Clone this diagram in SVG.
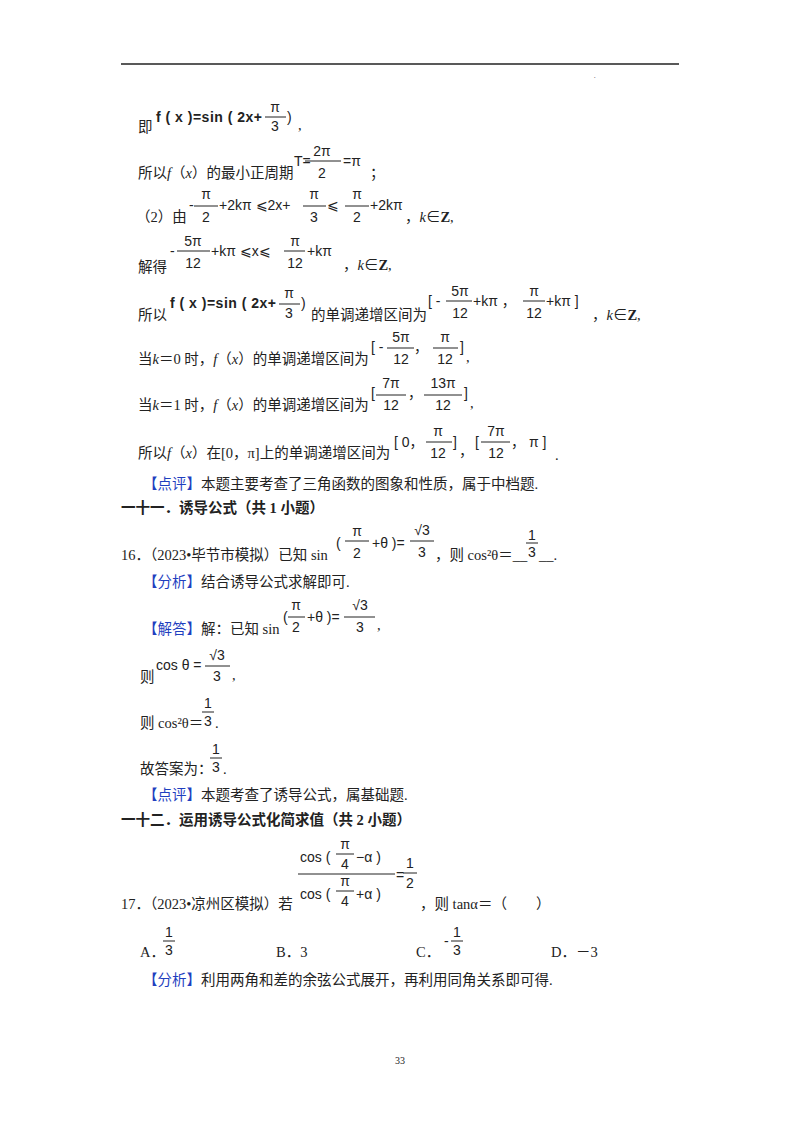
<svg xmlns="http://www.w3.org/2000/svg" width="800" height="1132" viewBox="0 0 800 1132">
<style>
text{font-family:"Liberation Serif","Noto Sans CJK SC",serif;font-size:14.5px;fill:#222}
.m{font-family:"Liberation Sans","Noto Sans CJK SC",sans-serif;font-size:14px}
.f{font-family:"Liberation Sans",sans-serif;font-size:14px;font-weight:bold;letter-spacing:0.5px}
.b{font-weight:bold}
.bl{fill:#1f3fbf}
.i{font-style:italic}
line{stroke:#222;stroke-width:1}
.c{text-anchor:middle}
</style>
<rect width="800" height="1132" fill="#fff"/>
<line x1="121" y1="64" x2="679" y2="64" style="stroke-width:1.5"/>
<text x="594" y="78" style="font-size:6px">.</text>

<text x="138" y="132">即</text>
<text x="156" y="122" class="f">f ( x )=sin ( 2x+</text>
<text x="275" y="112" class="m c">π</text><line x1="265" y1="117" x2="286" y2="117"/><text x="275" y="131" class="m c">3</text>
<text x="287" y="122" class="m">)</text><text x="298" y="130">,</text>

<text x="138" y="178">所以<tspan class="i">f</tspan>（<tspan class="i">x</tspan>）的最小正周期</text>
<text x="294" y="166" class="m">T=</text>
<text x="322" y="156" class="m c">2π</text><line x1="305" y1="161" x2="341" y2="161"/><text x="322" y="178" class="m c">2</text>
<text x="343" y="166" class="m">=π</text><text x="370" y="178">；</text>

<text x="136" y="222">（2）由</text>
<text x="189" y="210" class="m">-</text>
<text x="206" y="199" class="m c">π</text><line x1="194" y1="206" x2="218" y2="206"/><text x="206" y="222" class="m c">2</text>
<text x="219" y="210" class="m">+2kπ ⩽2x+</text>
<text x="314" y="199" class="m c">π</text><line x1="303" y1="206" x2="326" y2="206"/><text x="314" y="222" class="m c">3</text>
<text x="327" y="210" class="m">⩽</text>
<text x="357" y="199" class="m c">π</text><line x1="345" y1="206" x2="369" y2="206"/><text x="357" y="222" class="m c">2</text>
<text x="370" y="210" class="m">+2kπ</text>
<text x="405" y="222">，<tspan class="i">k</tspan>∈<tspan class="b">Z</tspan>,</text>

<text x="138" y="272">解得</text>
<text x="170" y="256" class="m">-</text>
<text x="193" y="246" class="m c">5π</text><line x1="177" y1="251" x2="210" y2="251"/><text x="193" y="268" class="m c">12</text>
<text x="211" y="256" class="m">+kπ ⩽x⩽</text>
<text x="295" y="246" class="m c">π</text><line x1="284" y1="251" x2="305" y2="251"/><text x="295" y="268" class="m c">12</text>
<text x="307" y="256" class="m">+kπ</text>
<text x="343" y="270">，<tspan class="i">k</tspan>∈<tspan class="b">Z</tspan>,</text>

<text x="138" y="320">所以</text>
<text x="170" y="308" class="f">f ( x )=sin ( 2x+</text>
<text x="289" y="298" class="m c">π</text><line x1="279" y1="304" x2="300" y2="304"/><text x="289" y="318" class="m c">3</text>
<text x="301" y="308" class="m">)</text>
<text x="311" y="320">的单调递增区间为</text>
<text x="428" y="306" class="m">[ -</text>
<text x="460" y="296" class="m c">5π</text><line x1="446" y1="301" x2="472" y2="301"/><text x="460" y="318" class="m c">12</text>
<text x="473" y="306" class="m">+kπ ，</text>
<text x="534" y="296" class="m c">π</text><line x1="523" y1="301" x2="545" y2="301"/><text x="534" y="318" class="m c">12</text>
<text x="546" y="306" class="m">+kπ ]</text>
<text x="592" y="320">，<tspan class="i">k</tspan>∈<tspan class="b">Z</tspan>,</text>

<text x="138" y="364">当<tspan class="i">k</tspan>＝0 时，<tspan class="i">f</tspan>（<tspan class="i">x</tspan>）的单调递增区间为</text>
<text x="371" y="352" class="m">[ -</text>
<text x="401" y="342" class="m c">5π</text><line x1="387" y1="348" x2="414" y2="348"/><text x="401" y="364" class="m c">12</text>
<text x="414" y="352" class="m">，</text>
<text x="445" y="342" class="m c">π</text><line x1="433" y1="348" x2="458" y2="348"/><text x="445" y="364" class="m c">12</text>
<text x="460" y="352" class="m">]</text><text x="466" y="362">,</text>

<text x="138" y="410">当<tspan class="i">k</tspan>＝1 时，<tspan class="i">f</tspan>（<tspan class="i">x</tspan>）的单调递增区间为</text>
<text x="371" y="398" class="m">[</text>
<text x="391" y="388" class="m c">7π</text><line x1="376" y1="395" x2="406" y2="395"/><text x="391" y="410" class="m c">12</text>
<text x="408" y="398" class="m">，</text>
<text x="443" y="388" class="m c">13π</text><line x1="424" y1="395" x2="462" y2="395"/><text x="443" y="410" class="m c">12</text>
<text x="464" y="398" class="m">]</text><text x="470" y="408">,</text>

<text x="138" y="458">所以<tspan class="i">f</tspan>（<tspan class="i">x</tspan>）在[0，π]上的单调递增区间为</text>
<text x="394" y="447" class="m">[ 0，</text>
<text x="438" y="436" class="m c">π</text><line x1="426" y1="442" x2="452" y2="442"/><text x="438" y="458" class="m c">12</text>
<text x="453" y="447" class="m">]</text><text x="459" y="456">，</text>
<text x="475" y="447" class="m">[</text>
<text x="496" y="436" class="m c">7π</text><line x1="481" y1="442" x2="510" y2="442"/><text x="496" y="458" class="m c">12</text>
<text x="511" y="447" class="m">，  π ]</text><text x="555" y="460">.</text>

<text x="143" y="489"><tspan class="bl">【点评】</tspan>本题主要考查了三角函数的图象和性质，属于中档题.</text>
<text x="121" y="513" class="b">一十一．诱导公式（共 1 小题）</text>

<text x="121" y="560">16．（2023•毕节市模拟）已知 sin</text>
<text x="336" y="548" class="m">(</text>
<text x="357" y="536" class="m c">π</text><line x1="345" y1="541" x2="369" y2="541"/><text x="357" y="558" class="m c">2</text>
<text x="372" y="548" class="m">+θ )=</text>
<text x="422" y="535" class="m c">√3</text><line x1="410" y1="541" x2="434" y2="541"/><text x="422" y="557" class="m c">3</text>
<text x="435" y="560">，则 cos²θ＝__</text>
<text x="532" y="540" class="m c">1</text><line x1="526" y1="543" x2="538" y2="543"/><text x="532" y="557" class="m c">3</text>
<text x="539" y="560">__.</text>

<text x="143" y="587"><tspan class="bl">【分析】</tspan>结合诱导公式求解即可.</text>

<text x="143" y="634"><tspan class="bl">【解答】</tspan>解：已知 sin</text>
<text x="283" y="622" class="m">(</text>
<text x="296" y="610" class="m c">π</text><line x1="288" y1="617" x2="305" y2="617"/><text x="296" y="632" class="m c">2</text>
<text x="307" y="622" class="m">+θ )=</text>
<text x="360" y="610" class="m c">√3</text><line x1="344" y1="617" x2="375" y2="617"/><text x="360" y="632" class="m c">3</text>
<text x="377" y="630">,</text>

<text x="140" y="682">则</text>
<text x="156" y="670" class="m">cos θ =</text>
<text x="217" y="660" class="m c">√3</text><line x1="205" y1="666" x2="230" y2="666"/><text x="217" y="681" class="m c">3</text>
<text x="232" y="680">,</text>

<text x="140" y="728">则 cos²θ＝</text>
<text x="208" y="708" class="m c">1</text><line x1="202" y1="712" x2="214" y2="712"/><text x="208" y="726" class="m c">3</text>
<text x="215" y="728">.</text>

<text x="140" y="774">故答案为：</text>
<text x="216" y="754" class="m c">1</text><line x1="210" y1="758" x2="222" y2="758"/><text x="216" y="772" class="m c">3</text>
<text x="223" y="774">.</text>

<text x="143" y="800"><tspan class="bl">【点评】</tspan>本题考查了诱导公式，属基础题.</text>
<text x="121" y="825" class="b">一十二．运用诱导公式化简求值（共 2 小题）</text>

<text x="300" y="862" class="m">cos (</text>
<text x="345" y="849" class="m c">π</text><line x1="336" y1="854" x2="354" y2="854"/><text x="345" y="869" class="m c">4</text>
<text x="356" y="862" class="m">−α )</text>
<line x1="298" y1="874" x2="395" y2="874"/>
<text x="300" y="899" class="m">cos (</text>
<text x="345" y="886" class="m c">π</text><line x1="336" y1="891" x2="354" y2="891"/><text x="345" y="906" class="m c">4</text>
<text x="356" y="899" class="m">+α )</text>
<text x="396" y="880" class="m">=</text>
<text x="410" y="868" class="m c">1</text><line x1="403" y1="873" x2="417" y2="873"/><text x="410" y="888" class="m c">2</text>
<text x="121" y="909">17．（2023•凉州区模拟）若</text>
<text x="420" y="909">，则 tanα＝（&#160;&#160;&#160;&#160;&#160;&#160;&#160;&#160;）</text>

<text x="140" y="957">A．</text>
<text x="169" y="937" class="m c">1</text><line x1="163" y1="941" x2="175" y2="941"/><text x="169" y="955" class="m c">3</text>
<text x="276" y="957">B．3</text>
<text x="416" y="957">C．</text>
<text x="444" y="946" class="m">-</text>
<text x="457" y="937" class="m c">1</text><line x1="451" y1="941" x2="463" y2="941"/><text x="457" y="955" class="m c">3</text>
<text x="551" y="957">D．－3</text>

<text x="143" y="985"><tspan class="bl">【分析】</tspan>利用两角和差的余弦公式展开，再利用同角关系即可得.</text>

<text x="400" y="1064" class="c" style="font-size:10px">33</text>
</svg>
